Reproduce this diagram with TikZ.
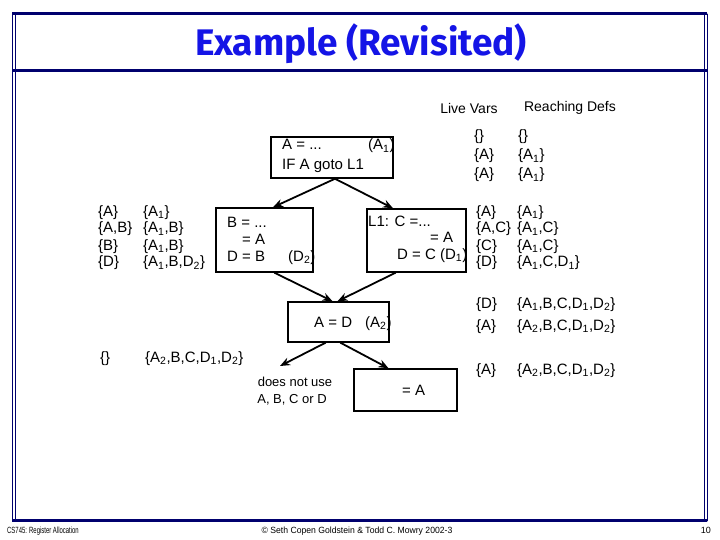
\documentclass[tikz,border=0pt]{standalone}
\usepackage{fontspec}
\usepackage{graphicx}
\setmainfont{Liberation Sans}
\newfontfamily\titlefont{Fira Sans}
\usetikzlibrary{arrows.meta}
\definecolor{SlideNavy}{HTML}{00006E}
\definecolor{SlideBlue}{HTML}{1414E6}
\newcommand{\lo}[1]{\textsubscript{#1}}

\begin{document}
\begin{tikzpicture}[x=1pt,y=-1pt,line cap=round,
  blk/.style={draw,line width=1.5pt,inner sep=0pt},
  code/.style={anchor=base west,inner sep=0pt,font=\fontsize{15}{17}\selectfont},
  vars/.style={anchor=base west,inner sep=0pt,font=\fontsize{15}{#1}\selectfont},
  vars/.default=17,
  head/.style={inner sep=0pt,font=\fontsize{14}{16}\selectfont},
  note/.style={anchor=base,inner sep=0pt,font=\fontsize{13}{15}\selectfont},
  foot/.style={anchor=base,inner sep=0pt,font=\fontsize{9}{10}\selectfont},
  flow/.style={line width=1.8pt,-{Stealth[length=10pt,width=8pt]}}]
  \useasboundingbox (0,0) rectangle (720,540);
  % slide frame
  \draw[SlideNavy,line width=3pt,line cap=butt] (12,14)--(707,14) (12,71)--(707,71) (12,520.5)--(707,520.5);
  \draw[SlideNavy,line width=.8pt] (12.5,14)--(12.5,521) (15,14)--(15,521) (704.5,14)--(704.5,521) (707,14)--(707,521);
  \node[text=SlideBlue,font=\titlefont\bfseries\fontsize{37}{40}\selectfont] (title) at (361,44) {Example (Revisited)};
  \node[head] (hLive) at (469,108) {Live Vars}; \node[head] (hReach) at (570,108) {Reaching Defs};
  % basic blocks
  \node[blk,minimum width=122pt,minimum height=41pt] (b0) at (332,157.5) {};
  \node[blk,minimum width=97pt,minimum height=64pt] (bL) at (264.5,240) {};
  \node[blk,minimum width=99pt,minimum height=63pt] (bR) at (416.5,240.5) {};
  \node[blk,minimum width=101pt,minimum height=40pt] (bM) at (338.5,322) {};
  \node[blk,minimum width=103pt,minimum height=42pt] (bE) at (405.5,390) {};
  \coordinate (exit) at (280,366);
  \draw[flow] ([xshift=3pt]b0.south) -- ([xshift=8.5pt]bL.north);
  \draw[flow] ([xshift=3pt]b0.south) -- ([xshift=-23.5pt]bR.north);
  \draw[flow] ([xshift=10pt]bL.south) -- ([xshift=-6pt]bM.north);
  \draw[flow] ([xshift=-21pt]bR.south) -- ([xshift=-1pt]bM.north);
  \draw[flow] ([xshift=-13pt]bM.south) -- (exit);
  \draw[flow] ([xshift=2pt]bM.south) -- ([xshift=-17pt]bE.north);
  % statements
  \node[code] (s01) at (282,150) {A = ...}; \node[code] (s01d) at (368,150) {(A\lo1)};
  \node[code] (s02) at (282,170) {IF A goto L1};
  \node[code] (sL1) at (227,227) {B = ...};
  \node[code] (sL2) at (242,244) {= A};
  \node[code] (sL3) at (227,261) {D = B}; \node[code] (sL3d) at (288,261) {(D\lo2)};
  \node[code] (sR1) at (368,226) {L1: C =...};
  \node[code] (sR2) at (430,242) {= A};
  \node[code] (sR3) at (397,259) {D = C (D\lo1)};
  \node[code] (sM1) at (314,327) {A = D}; \node[code] (sM1d) at (365,327) {(A\lo2)};
  \node[code] (sE1) at (402,395) {= A};
  \node[note] (nu1) at (295,386.5) {does not use};
  \node[note] (nu2) at (292,403.5) {A, B, C or D};
  % live vars / reaching defs
  \node[vars=19] (v0) at (474,141) {\begin{tabular}[t]{@{}p{44pt}@{}l@{}}
    \{\}&\{\}\\ \{A\}&\{A\lo1\}\\ \{A\}&\{A\lo1\}\end{tabular}};
  \node[vars] (vL) at (98,216) {\begin{tabular}[t]{@{}p{45pt}@{}l@{}}
    \{A\}&\{A\lo1\}\\ \{A,B\}&\{A\lo1,B\}\\ \{B\}&\{A\lo1,B\}\\ \{D\}&\{A\lo1,B,D\lo2\}\end{tabular}};
  \node[vars] (vR) at (476,216) {\begin{tabular}[t]{@{}p{41pt}@{}l@{}}
    \{A\}&\{A\lo1\}\\ \{A,C\}&\{A\lo1,C\}\\ \{C\}&\{A\lo1,C\}\\ \{D\}&\{A\lo1,C,D\lo1\}\end{tabular}};
  \node[vars=22] (vM) at (476,308) {\begin{tabular}[t]{@{}p{41pt}@{}l@{}}
    \{D\}&\{A\lo1,B,C,D\lo1,D\lo2\}\\ \{A\}&\{A\lo2,B,C,D\lo1,D\lo2\}\end{tabular}};
  \node[vars] (vE) at (476,374) {\begin{tabular}[t]{@{}p{41pt}@{}l@{}}
    \{A\}&\{A\lo2,B,C,D\lo1,D\lo2\}\end{tabular}};
  \node[vars] (vX) at (100,362) {\begin{tabular}[t]{@{}p{45pt}@{}l@{}}
    \{\}&\{A\lo2,B,C,D\lo1,D\lo2\}\end{tabular}};
  % footer
  \node[foot,anchor=base west] (fL) at (7,533.5) {\scalebox{.66}[1]{CS745: Register Allocation}};
  \node[foot] (fC) at (357,533.5) {\scalebox{.96}[1]{© Seth Copen Goldstein \& Todd C. Mowry 2002-3}};
  \node[foot,anchor=base east] (fR) at (711,533.5) {10};
\end{tikzpicture}
\end{document}
